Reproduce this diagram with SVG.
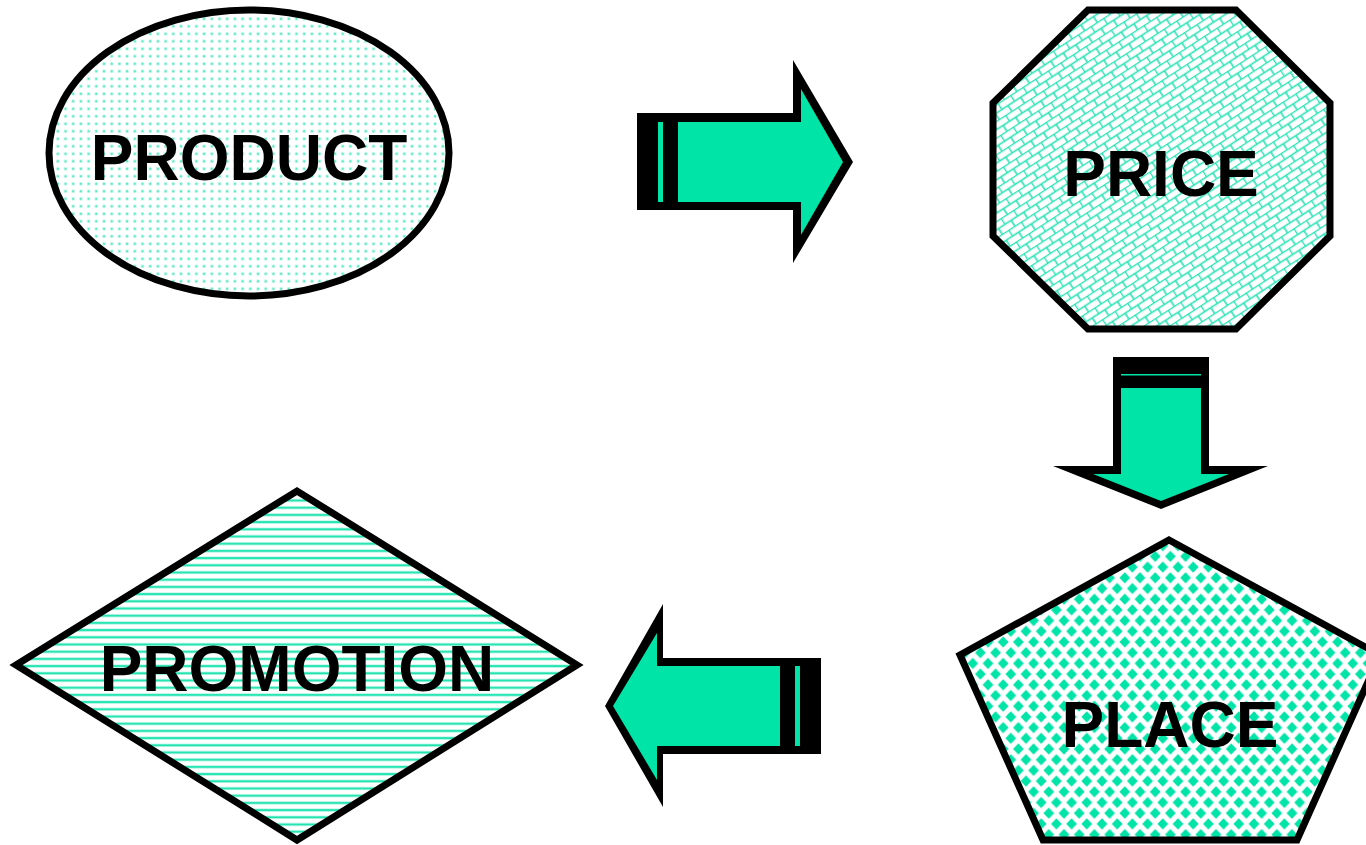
<svg xmlns="http://www.w3.org/2000/svg" width="1366" height="845" viewBox="0 0 1366 845">
  <style>
    .outline { stroke: #000; stroke-linejoin: miter; stroke-miterlimit: 10; }
    .label { font-family: "Liberation Sans", Arial, sans-serif; font-weight: bold; font-size: 64px; fill: #000; text-anchor: middle; }
    .ink { fill: #000; }
    .fill { fill: #00E4A8; }
  </style>
  <defs>
    <!-- fine dot screen -->
    <pattern id="dots" width="7.7" height="7.5" patternUnits="userSpaceOnUse">
      <rect width="7.7" height="7.5" fill="#fff"/>
      <rect x="2.4" y="2.3" width="3" height="3" fill="#a8f4de"/>
      <rect x="3.2" y="3.1" width="1.4" height="1.4" fill="#19e4b0"/>
    </pattern>
    <!-- diagonal brick mesh -->
    <pattern id="bricks" width="15" height="14" patternUnits="userSpaceOnUse" patternTransform="rotate(-33)">
      <rect width="15" height="14" fill="#fff"/>
      <g stroke="#29E3B4" stroke-width="1.6" fill="none">
        <line x1="0" y1="0.5" x2="15" y2="0.5"/>
        <line x1="0" y1="7.5" x2="15" y2="7.5"/>
        <line x1="0.5" y1="0" x2="0.5" y2="7.5"/>
        <line x1="8" y1="7.5" x2="8" y2="14"/>
      </g>
    </pattern>
    <!-- staggered diamond checks -->
    <pattern id="checks" width="15.2" height="21.4" patternUnits="userSpaceOnUse">
      <rect width="15.2" height="21.4" fill="#fff"/>
      <g fill="#00E4A8">
        <polygon points="0,-5.6 5.4,0 0,5.6 -5.4,0"/>
        <polygon points="15.2,-5.6 20.6,0 15.2,5.6 9.8,0"/>
        <polygon points="0,15.8 5.4,21.4 0,27 -5.4,21.4"/>
        <polygon points="15.2,15.8 20.6,21.4 15.2,27 9.8,21.4"/>
        <polygon points="7.6,5.1 13,10.7 7.6,16.3 2.2,10.7"/>
      </g>
    </pattern>
    <!-- horizontal rules -->
    <pattern id="rules" width="10" height="7.2" patternUnits="userSpaceOnUse">
      <rect width="10" height="7.2" fill="#fff"/>
      <rect y="2.2" width="10" height="3" fill="#a6f3dd"/>
      <rect y="2.8" width="10" height="1.8" fill="#1fe4b0"/>
    </pattern>
  </defs>

  <g id="product">
    <ellipse cx="249" cy="153" rx="200" ry="143" fill="url(#dots)" class="outline" stroke-width="7"/>
    <text x="249" y="180" class="label">PRODUCT</text>
  </g>

  <g id="price">
    <polygon points="1088,10 1236,10 1330,103 1330,236 1236,329 1088,329 993,236 993,103" fill="url(#bricks)" class="outline" stroke-width="7"/>
    <text x="1161" y="196" class="label">PRICE</text>
  </g>

  <g id="place">
    <polygon points="1169,540 1380,655 1297,840 1043,840 960,655" fill="url(#checks)" class="outline" stroke-width="7"/>
    <text x="1170" y="747" class="label">PLACE</text>
  </g>

  <g id="promotion">
    <polygon points="16,665 297,491 577,665 297,840" fill="url(#rules)" class="outline" stroke-width="7"/>
    <text x="297" y="691" class="label">PROMOTION</text>
  </g>

  <g id="connectors">
    <!-- product to price -->
    <g id="arrow-right">
      <polygon class="ink" points="637,113 793,113 793,60 853,162 793,263 793,210 637,210"/>
      <polygon class="fill" points="678,122 801,122 801,89 843,162 801,235 801,202 678,202"/>
      <rect class="fill" x="658" y="122" width="5" height="80"/>
    </g>
    <!-- price to place -->
    <g id="arrow-down">
      <polygon class="ink" points="1113,357 1209,357 1209,466 1268,466 1161,509 1053,466 1113,466"/>
      <polygon class="fill" points="1121,388 1201,388 1201,474 1229,474 1161,501 1093,474 1121,474"/>
      <rect class="fill" x="1121" y="374" width="80" height="1.5"/>
    </g>
    <!-- place to promotion -->
    <g id="arrow-left">
      <polygon class="ink" points="821,658 663,658 663,604 605,706 663,807 663,754 821,754"/>
      <polygon class="fill" points="780,666 657,666 657,633 613,706 657,780 657,746 780,746"/>
      <rect class="fill" x="795" y="666" width="5" height="80"/>
    </g>
  </g>
</svg>
